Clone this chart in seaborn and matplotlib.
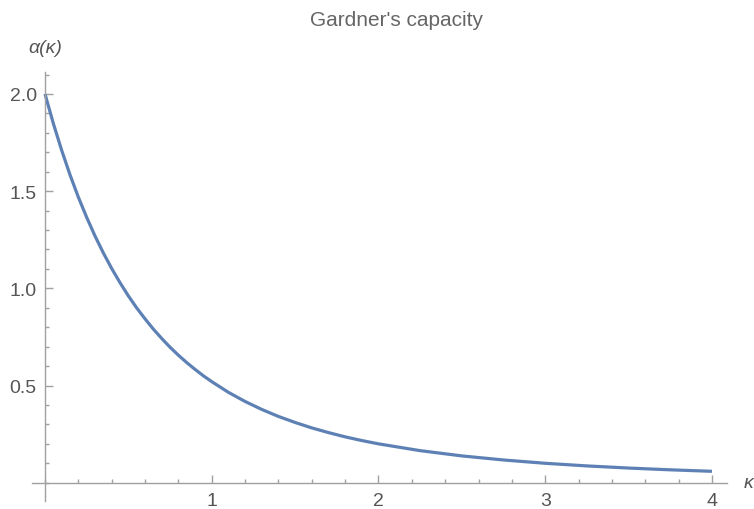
import seaborn as sns
import matplotlib.pyplot as plt
import matplotlib.ticker as mticker
import pandas as pd

# --- data ---
kappa = [0.0, 0.05, 0.1, 0.15, 0.2, 0.25, 0.3, 0.35, 0.4, 0.45, 0.5, 0.55, 0.6, 0.65,
         0.7, 0.75, 0.8, 0.85, 0.9, 0.95, 1.0, 1.1, 1.2, 1.3, 1.4, 1.5, 1.6, 1.7,
         1.8, 1.9, 2.0, 2.25, 2.5, 2.75, 3.0, 3.25, 3.5, 3.75, 4.0]
alpha = [2.0, 1.848, 1.71, 1.584, 1.469, 1.365, 1.269, 1.182, 1.102, 1.029, 0.961,
         0.899, 0.843, 0.790, 0.742, 0.697, 0.656, 0.618, 0.583, 0.550, 0.520,
         0.465, 0.418, 0.377, 0.341, 0.310, 0.282, 0.258, 0.236, 0.217, 0.200,
         0.165, 0.138, 0.117, 0.100, 0.0865, 0.0755, 0.0664, 0.0588]

x_major = [1, 2, 3, 4]
y_major = [0.5, 1.0, 1.5, 2.0]

df = pd.DataFrame({'kappa': kappa, 'alpha': alpha})

# --- figure ---
plt.rcParams['font.family'] = ['Liberation Sans', 'DejaVu Sans']

dpi = 100
fig = plt.figure(figsize=(7.54, 5.10), dpi=dpi)
ax = fig.add_axes([32 / 754, 1 - 502 / 510, (727 - 32) / 754, (502 - 73) / 510])
ax.set_facecolor('white')

sns.lineplot(data=df, x='kappa', y='alpha', ax=ax, color='#5E81B5',
             linewidth=2.3, solid_joinstyle='round', solid_capstyle='butt')

ax.set_xlim(-0.078, 4.09)
ax.set_ylim(-0.094, 2.113)

grey = '#555555'
axis_col = '#a0a0a0'
for s in ['top', 'right']:
    ax.spines[s].set_visible(False)
for s in ['left', 'bottom']:
    ax.spines[s].set_position(('data', 0))
    ax.spines[s].set_color(axis_col)
    ax.spines[s].set_linewidth(1.0)

ax.xaxis.set_major_locator(mticker.FixedLocator(x_major))
ax.xaxis.set_minor_locator(mticker.MultipleLocator(0.2))
ax.yaxis.set_major_locator(mticker.FixedLocator(y_major))
ax.yaxis.set_minor_locator(mticker.MultipleLocator(0.1))
ax.xaxis.set_major_formatter(mticker.FormatStrFormatter('%d'))
ax.yaxis.set_major_formatter(mticker.FormatStrFormatter('%.1f'))

ax.tick_params(which='both', direction='in', color=axis_col, width=1.0,
               labelcolor=grey, labelsize=14, bottom=True, left=True,
               top=False, right=False)
ax.tick_params(which='major', length=5.5)
ax.tick_params(which='minor', length=3)
ax.tick_params(axis='x', which='major', pad=7)
ax.tick_params(axis='y', which='major', pad=6)

ax.set_xlabel('')
ax.set_ylabel('')

ax.text(0, 2.24, 'α(κ)', ha='center', va='center', fontsize=14,
        style='italic', color=grey, clip_on=False)
ax.text(4.19, 0, 'κ', ha='left', va='center', fontsize=14,
        style='italic', color=grey, clip_on=False)

fig.text(397 / 754, 1 - 20 / 510, "Gardner's capacity", ha='center', va='center',
         fontsize=15, color='#666666')

plt.savefig('out.png', dpi=dpi)
